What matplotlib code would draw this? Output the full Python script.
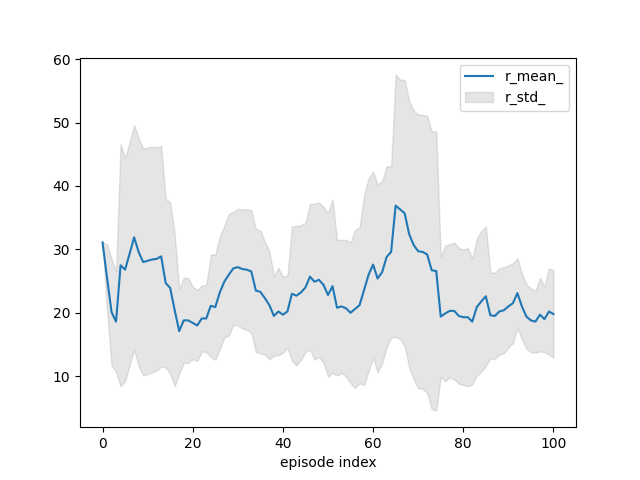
import numpy as np
import matplotlib
matplotlib.use("Agg")
import matplotlib.pyplot as plt

# --- values ---
episode = list(range(101))

r_mean = [31.1, 25.5, 20.1, 18.6, 27.5, 26.8, 29.3, 31.9, 29.6, 28.0,
          28.2, 28.4, 28.5, 28.9, 24.7, 23.9, 20.4, 17.1, 18.8, 18.8,
          18.4, 18.0, 19.1, 19.1, 21.1, 20.9, 23.2, 24.9, 26.0, 27.0,
          27.2, 26.9, 26.8, 26.5, 23.5, 23.3, 22.3, 21.2, 19.5, 20.2,
          19.7, 20.2, 23.0, 22.7, 23.2, 24.0, 25.7, 24.9, 25.2, 24.4,
          22.8, 24.2, 20.8, 21.0, 20.7, 20.0, 20.6, 21.2, 23.6, 26.0,
          27.6, 25.4, 26.4, 28.8, 29.6, 36.9, 36.3, 35.7, 32.4, 30.7,
          29.7, 29.6, 29.2, 26.7, 26.6, 19.4, 19.9, 20.3, 20.3, 19.5,
          19.3, 19.3, 18.6, 20.9, 21.8, 22.6, 19.6, 19.5, 20.2, 20.4,
          21.0, 21.5, 23.1, 21.0, 19.4, 18.8, 18.6, 19.7, 19.0, 20.2,
          19.8]

r_std = [0.0, 5.3, 8.4, 7.9, 19.1, 17.6, 17.6, 17.7, 18.0, 17.9,
         17.9, 17.8, 17.6, 17.4, 13.3, 13.5, 12.0, 6.7, 6.7, 6.7,
         5.7, 5.6, 5.2, 5.3, 8.1, 8.3, 8.9, 8.8, 9.6, 8.9,
         9.2, 9.4, 9.5, 9.7, 9.7, 9.7, 8.9, 8.5, 6.3, 6.9,
         6.0, 5.7, 10.6, 11.0, 10.6, 10.2, 11.5, 12.3, 12.2, 12.3,
         12.9, 13.7, 10.7, 10.5, 10.8, 11.1, 12.5, 12.3, 15.0, 15.2,
         14.7, 14.8, 14.4, 14.3, 13.5, 20.7, 20.5, 21.0, 21.0, 21.2,
         21.6, 21.6, 21.9, 21.9, 22.0, 9.5, 10.7, 10.5, 10.8, 10.7,
         10.7, 10.9, 9.9, 10.8, 11.1, 11.0, 6.8, 6.8, 6.8, 6.8,
         6.5, 6.3, 5.5, 5.2, 5.1, 5.0, 4.9, 5.8, 5.2, 6.8,
         6.9]

x = np.array(episode)
mean = np.array(r_mean)
std = np.array(r_std)

fig, ax = plt.subplots(figsize=(6.4, 4.8), dpi=100)
ax.plot(x, mean, color="#1f77b4", label="r_mean_")
ax.fill_between(x, mean - std, mean + std, color="grey", alpha=0.2, label="r_std_")
ax.set_xlabel("episode index")
ax.legend(loc="upper right")

fig.savefig("out.png", dpi=100)
